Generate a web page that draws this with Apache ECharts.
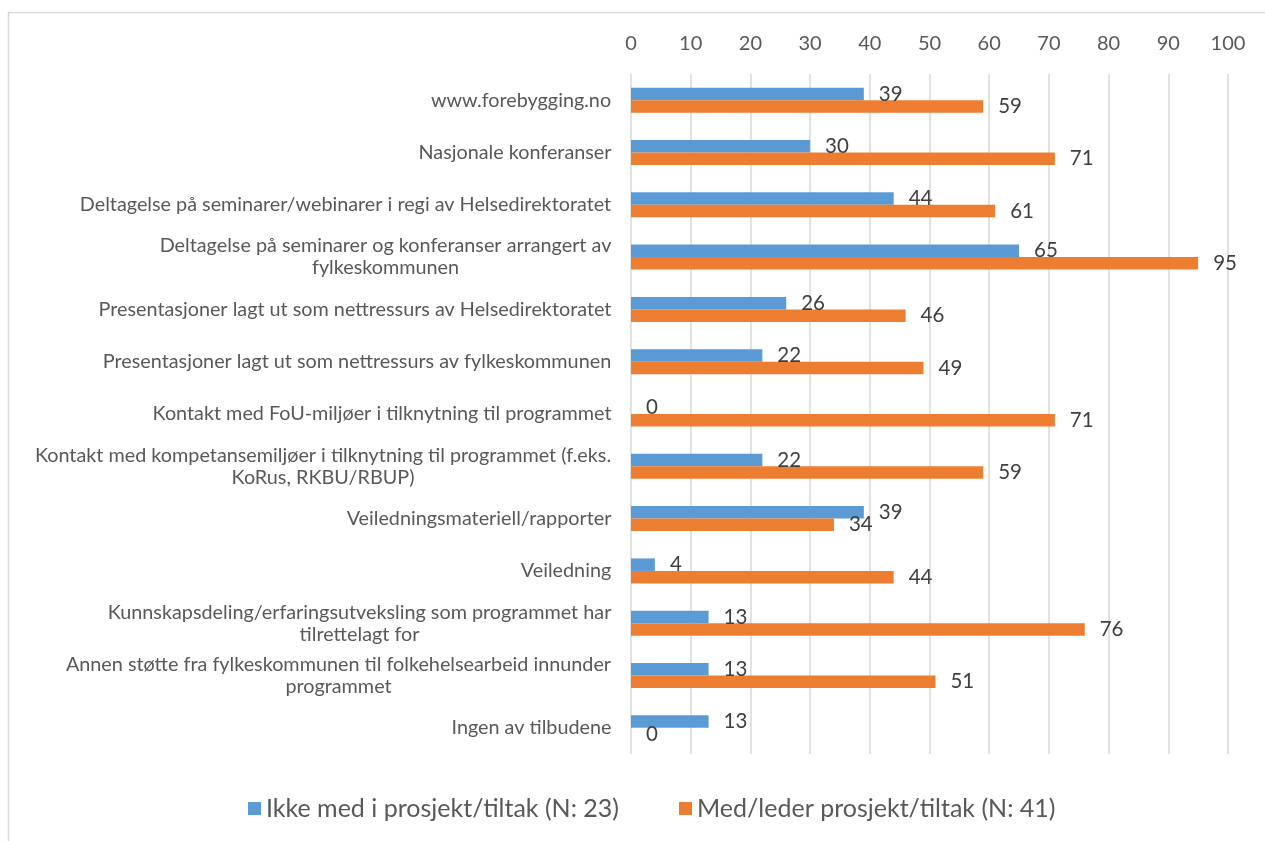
<!DOCTYPE html>
<html>
<head>
<meta charset="utf-8">
<script src="https://cdn.jsdelivr.net/npm/echarts@6/dist/echarts.min.js"></script>
<style>
  html, body { margin: 0; padding: 0; background: #fff; }
  #chart { width: 1265px; height: 841px; }
</style>
</head>
<body>
<div id="chart"></div>
<script>
// kategorier (ovenfra og ned)
var categories = [
  "www.forebygging.no",
  "Nasjonale konferanser",
  "Deltagelse på seminarer/webinarer i regi av Helsedirektoratet",
  "Deltagelse på seminarer og konferanser arrangert av\nfylkeskommunen",
  "Presentasjoner lagt ut som nettressurs av Helsedirektoratet",
  "Presentasjoner lagt ut som nettressurs av fylkeskommunen",
  "Kontakt med FoU-miljøer i tilknytning til programmet",
  "Kontakt med kompetansemiljøer i tilknytning til programmet (f.eks.\nKoRus, RKBU/RBUP)",
  "Veiledningsmateriell/rapporter",
  "Veiledning",
  "Kunnskapsdeling/erfaringsutveksling som programmet har\ntilrettelagt for",
  "Annen støtte fra fylkeskommunen til folkehelsearbeid innunder\nprogrammet",
  "Ingen av tilbudene"
];
var ikkeMed = [39, 30, 44, 65, 26, 22, 0, 22, 39, 4, 13, 13, 13];
var medLeder = [59, 71, 61, 95, 46, 49, 71, 59, 34, 44, 76, 51, 0];
var seriesNames = ["Ikke med i prosjekt/tiltak (N: 23)", "Med/leder prosjekt/tiltak (N: 41)"];

var catFont = "19.8px Lato";
var ctx = document.createElement("canvas").getContext("2d");
ctx.font = catFont;

// linjer i hver etikett sentreres mot hverandre, blokken høyrejusteres
var rich = {};
categories.forEach(function (c, i) {
  var w = 0;
  c.split("\n").forEach(function (l) { w = Math.max(w, ctx.measureText(l).width); });
  rich["c" + i] = { width: Math.ceil(w) + 1, align: "center", fontFamily: "Lato", fontSize: 19.8, color: "#595959", lineHeight: 22 };
});

var myChart = echarts.init(document.getElementById("chart"));
var option = {
  animation: false,
  textStyle: { fontFamily: "Lato" },
  graphic: [{
    type: "rect",
    shape: { x: 8.5, y: 12.5, width: 1400, height: 1000 },
    style: { fill: "none", stroke: "#d9d9d9", lineWidth: 1.5 },
    silent: true
  }],
  grid: { left: 631, right: 37, top: 74, bottom: 87, containLabel: false },
  legend: {
    bottom: 15,
    left: 243,
    itemWidth: 13,
    itemHeight: 13,
    itemGap: 60,
    icon: "rect",
    textStyle: { fontSize: 25, color: "#595959", fontFamily: "Lato" }
  },
  xAxis: {
    type: "value",
    position: "top",
    min: 0,
    max: 100,
    interval: 10,
    axisLine: { show: false },
    axisTick: { show: false },
    axisLabel: { fontSize: 20, color: "#595959", margin: 20 },
    splitLine: { lineStyle: { color: "#d9d9d9", width: 1.5 } }
  },
  yAxis: {
    type: "category",
    inverse: true,
    data: categories,
    axisLine: { show: false },
    axisTick: { show: false },
    axisLabel: {
      margin: 19,
      formatter: function (v, i) { return "{c" + i + "|" + v + "}"; },
      rich: rich
    }
  },
  series: [
    {
      name: seriesNames[0],
      type: "bar",
      data: ikkeMed,
      barWidth: 12.5,
      barGap: "0%",
      itemStyle: { color: "#5b9bd5" },
      label: { show: true, position: "right", distance: 15, fontSize: 20.5, color: "#404040", fontFamily: "Lato" }
    },
    {
      name: seriesNames[1],
      type: "bar",
      data: medLeder,
      barWidth: 12.5,
      itemStyle: { color: "#ed7d31" },
      label: { show: true, position: "right", distance: 15, fontSize: 20.5, color: "#404040", fontFamily: "Lato" }
    }
  ]
};
myChart.setOption(option);
</script>
</body>
</html>
